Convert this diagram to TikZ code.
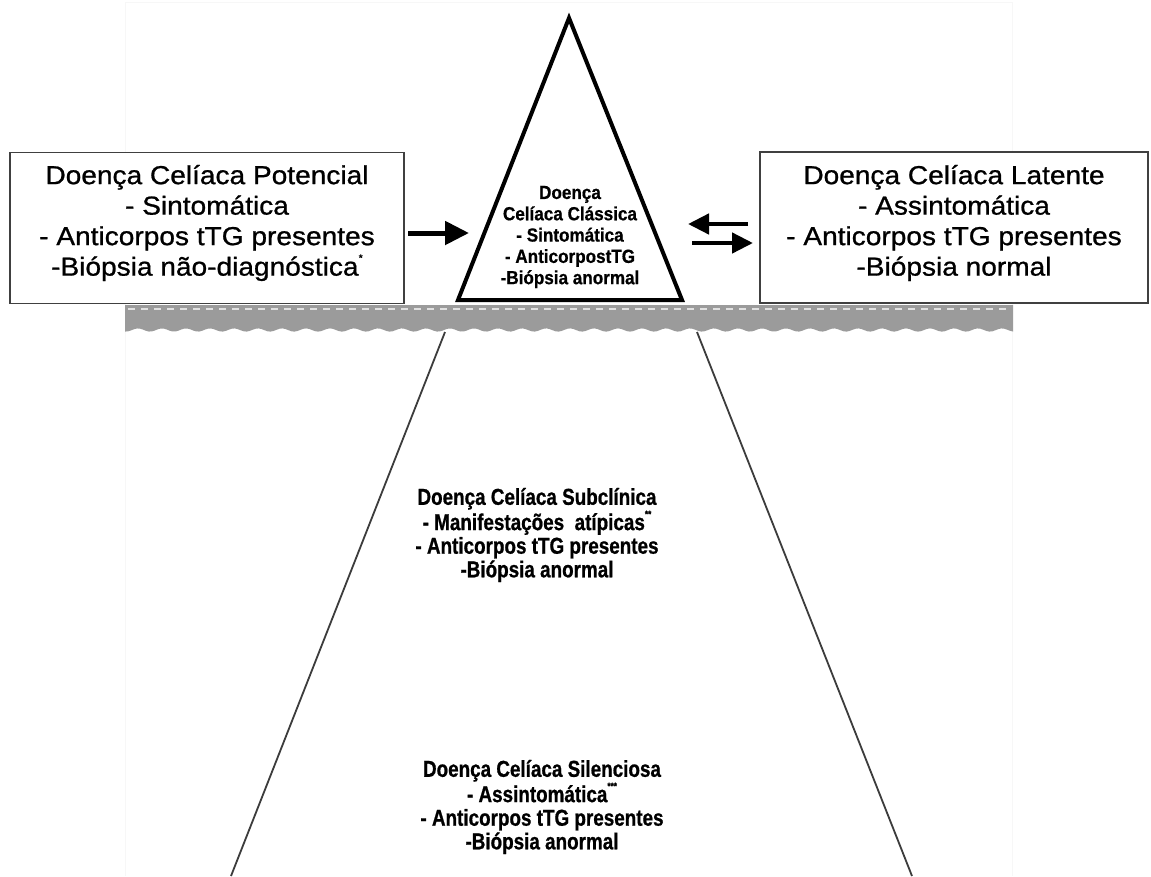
\documentclass[tikz,border=0pt]{standalone}
\usepackage{fontspec}
\setmainfont{Liberation Sans}
\newfontfamily\boxfont[FakeStretch=1.08,FakeBold=0.9]{Liberation Sans}
\newfontfamily\condfont[FakeStretch=0.82,FakeBold=0.8]{Liberation Sans}
\newfontfamily\trifont[FakeStretch=0.9,FakeBold=0.6]{Liberation Sans}
\newcommand\supmark[1]{\raisebox{0.55em}{\fontsize{10}{10}\selectfont #1}}
\usetikzlibrary{arrows.meta}
\definecolor{bandgray}{RGB}{155,155,155}
\definecolor{edgegray}{RGB}{60,60,60}
\tikzset{
  boxframe/.style={draw=black!75, line width=1.6pt, fill=white, inner sep=0pt},
  boxtext/.style={align=center, inner sep=0pt, font=\boxfont\fontsize{26}{30.5}\selectfont},
  tritext/.style={align=center, inner sep=0pt, font=\trifont\bfseries\fontsize{19}{21.3}\selectfont},
  lowtext/.style={align=center, inner sep=0pt, font=\condfont\bfseries\fontsize{23}{23.6}\selectfont},
  bigarrow/.style={line width=5pt, -{Triangle[length=24pt,width=23pt]}},
  smallarrow/.style={line width=4.5pt, -{Triangle[length=21pt,width=20pt]}},
  sideline/.style={draw=edgegray, line width=1.8pt},
  pyramid/.style={draw=black, line width=4pt, fill=white, line join=miter}
}
\begin{document}
\begin{tikzpicture}[x=1pt,y=-1pt]
\useasboundingbox (0,0) rectangle (1151,876);
\fill[white] (0,0) rectangle (1151,876);
% faint panel
\draw[black!3, line width=0.8pt] (125,876) -- (125,2) -- (1012,2) -- (1012,876);
% wavy band
\fill[bandgray] (125,305) -- (1013,305) -- (1013,330)
  -- plot[domain=1013:125, samples=300] (\x, {330+1.6*sin(\x*15)}) -- cycle;
\draw[white, line width=1.3pt, dash pattern=on 7pt off 6pt, opacity=0.7] (128,309) -- (1010,309);
% trapezoid sides
\coordinate (tl) at (445,332);
\coordinate (bl) at (231,876);
\coordinate (tr) at (697,332);
\coordinate (br) at (912,876);
\draw[sideline] (tl) -- (bl);
\draw[sideline] (tr) -- (br);
% triangle
\coordinate (apex) at (569,18);
\coordinate (tbl) at (458,300);
\coordinate (tbr) at (682,300);
\draw[pyramid] (apex) -- (tbr) -- (tbl) -- cycle;
\node[tritext] (classic) at (570,237) {Doença\\Celíaca Clássica\\- Sintomática\\- AnticorpostTG\\-Biópsia anormal};
% side boxes
\node[boxframe, minimum width=394pt, minimum height=151pt] (lbox) at (207,228) {};
\node[boxtext] (ltext) at (207,223) {Doença Celíaca Potencial\\- Sintomática\\- Anticorpos tTG presentes\\-Biópsia não-diagnóstica\supmark{*}};
\node[boxframe, minimum width=388pt, minimum height=151pt] (rbox) at (954,227.5) {};
\node[boxtext] (rtext) at (954,223) {Doença Celíaca Latente\\- Assintomática\\- Anticorpos tTG presentes\\-Biópsia normal};
% arrows
\coordinate (a1s) at (408,233);
\coordinate (a1e) at (469,233);
\draw[bigarrow] (a1s) -- (a1e);
\coordinate (a2s) at (748,224);
\coordinate (a2e) at (688,224);
\draw[smallarrow] (a2s) -- (a2e);
\coordinate (a3s) at (692,243);
\coordinate (a3e) at (753,243);
\draw[smallarrow] (a3s) -- (a3e);
% lower texts
\node[lowtext] (subclin) at (537,535) {Doença Celíaca Subclínica\\- Manifestações\ \ atípicas\supmark{**}\\- Anticorpos tTG presentes\\-Biópsia anormal};
\node[lowtext] (silent) at (542,807) {Doença Celíaca Silenciosa\\- Assintomática\supmark{***}\\- Anticorpos tTG presentes\\-Biópsia anormal};
\end{tikzpicture}
\end{document}
